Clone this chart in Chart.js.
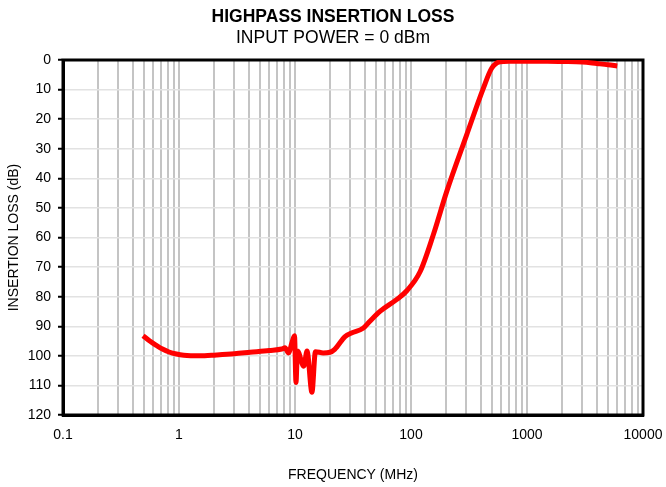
<!DOCTYPE html>
<html>
<head>
<meta charset="utf-8">
<title>Highpass Insertion Loss</title>
<script src="https://cdn.jsdelivr.net/npm/chart.js@4.4.1/dist/chart.umd.min.js"></script>
<style>
  body { margin: 0; background: #ffffff; }
</style>
</head>
<body>
<canvas id="chart1" width="666" height="487"></canvas>
<script>
// frequency in MHz, insertion loss in dB
var freqMHz = [0.49, 0.56, 0.64, 0.72, 0.82, 0.95, 1.1, 1.5, 2.1, 3, 4.1, 6, 7.7, 8.2, 8.8, 9.4, 9.9, 10.2, 10.5, 11.9, 12.7, 14, 15, 17.5, 20, 22, 27, 30.7, 38.6, 44, 54, 75, 92, 120, 156, 203, 302, 420, 496, 585, 700, 1000, 1500, 2000, 3000, 4000, 5000, 6000];
var lossDb = [93.2, 95, 96.5, 97.7, 98.7, 99.4, 99.8, 100, 99.7, 99.3, 98.8, 98.2, 97.7, 97.3, 99, 95.6, 93.2, 109, 98.4, 103.5, 98.4, 112.3, 98.6, 99, 98.8, 97.8, 93.5, 92.3, 90.7, 88.4, 85, 81, 78, 71.5, 59, 44.5, 25.3, 9.6, 2.8, 0.6, 0.4, 0.4, 0.4, 0.5, 0.7, 1.2, 1.6, 2.0];

var xTickLabels = [0.1, 1, 10, 100, 1000, 10000];
var yTickLabels = [0, 10, 20, 30, 40, 50, 60, 70, 80, 90, 100, 110, 120];

var fontFamily = 'Arial, "Liberation Sans", Helvetica, sans-serif';

var points = [];
for (var i = 0; i < freqMHz.length; i++) {
    points.push({ x: freqMHz[i], y: lossDb[i] });
}

// box round the plot (top and right sides are not axes)
var frame = {
    id: 'frame',
    beforeDatasetsDraw: function (chart) {
        var a = chart.chartArea;
        var c = chart.ctx;
        c.save();
        c.strokeStyle = '#000000';
        c.lineWidth = 3;
        c.strokeRect(a.left, a.top, a.right - a.left, a.bottom - a.top);
        c.restore();
    }
};

var ctx = document.getElementById('chart1').getContext('2d');
var myChart = new Chart(ctx, {
    type: 'line',
    data: {
        datasets: [{
            label: 'Insertion loss',
            data: points,
            borderColor: '#ff0000',
            borderWidth: 5,
            pointRadius: 0,
            fill: false,
            cubicInterpolationMode: 'monotone'
        }]
    },
    options: {
        responsive: false,
        animation: false,
        layout: {
            padding: { left: 0, right: 0, top: 0, bottom: 0 }
        },
        plugins: {
            legend: { display: false },
            tooltip: { enabled: false },
            title: {
                display: true,
                text: 'HIGHPASS INSERTION LOSS',
                color: '#000000',
                font: { family: fontFamily, size: 17.5, weight: 'bold' },
                padding: { top: 7, bottom: 0 }
            },
            subtitle: {
                display: true,
                text: 'INPUT POWER = 0 dBm',
                color: '#000000',
                font: { family: fontFamily, size: 17.5, weight: 'normal' },
                padding: { top: 0, bottom: 11 }
            }
        },
        scales: {
            x: {
                type: 'logarithmic',
                min: 0.1,
                max: 10000,
                afterBuildTicks: function (scale) {
                    var ticks = [];
                    for (var d = 0; d < xTickLabels.length - 1; d++) {
                        for (var m = 1; m <= 9; m++) {
                            ticks.push({ value: xTickLabels[d] * m });
                        }
                    }
                    ticks.push({ value: xTickLabels[xTickLabels.length - 1] });
                    scale.ticks = ticks;
                },
                afterFit: function (scale) {
                    scale.height = 72;
                    scale.paddingRight = 23;
                },
                border: { display: true, color: '#000000', width: 3 },
                grid: {
                    color: '#c4c4c4',
                    lineWidth: 2,
                    drawTicks: false
                },
                ticks: {
                    autoSkip: false,
                    maxRotation: 0,
                    padding: 12,
                    color: '#000000',
                    font: { family: fontFamily, size: 14 },
                    callback: function (value) {
                        return xTickLabels.indexOf(value) >= 0 ? String(value) : '';
                    }
                },
                title: {
                    display: true,
                    text: 'FREQUENCY (MHz)',
                    color: '#000000',
                    font: { family: fontFamily, size: 14 },
                    padding: { top: 0, bottom: 3 }
                }
            },
            y: {
                reverse: true,
                min: 0,
                max: 120,
                afterBuildTicks: function (scale) {
                    scale.ticks = yTickLabels.map(function (v) { return { value: v }; });
                },
                afterFit: function (scale) {
                    scale.width = 63;
                },
                border: { display: true, color: '#000000', width: 3 },
                grid: {
                    color: '#e2e2e2',
                    lineWidth: 1.5,
                    tickColor: '#000000',
                    tickLength: 5,
                    tickWidth: 2
                },
                ticks: {
                    padding: 7,
                    color: '#000000',
                    font: { family: fontFamily, size: 14 }
                },
                title: {
                    display: true,
                    text: 'INSERTION LOSS (dB)',
                    color: '#000000',
                    font: { family: fontFamily, size: 14 },
                    padding: { top: 6, bottom: 0 }
                }
            }
        }
    },
    plugins: [frame]
});
</script>
</body>
</html>
